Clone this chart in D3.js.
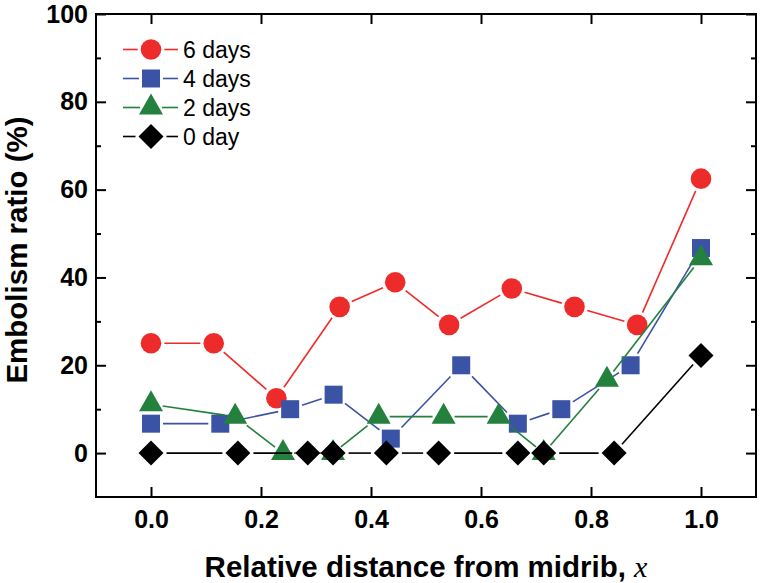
<!DOCTYPE html>
<html>
<head>
<meta charset="utf-8">
<script src="https://cdn.jsdelivr.net/npm/d3@7"></script>
<style>
  html, body { margin: 0; padding: 0; background: #fff; }
  svg { display: block; }
</style>
</head>
<body>
<svg id="chart" width="760" height="583"></svg>
<script>
// ---------------- data ----------------
const seriesNames = ["6 days", "4 days", "2 days", "0 day"];
const x6 = [0, 0.114, 0.228, 0.343, 0.444, 0.542, 0.656, 0.770, 0.884, 1.0];
const y6 = [25, 25, 12.5, 33.3, 38.9, 29.2, 37.5, 33.3, 29.2, 62.5];
const x4 = [0, 0.126, 0.253, 0.332, 0.436, 0.564, 0.667, 0.746, 0.872, 1.0];
const y4 = [6.7, 6.7, 10, 13.3, 3.3, 20, 6.7, 10, 20, 46.7];
const x2 = [0, 0.153, 0.240, 0.331, 0.414, 0.532, 0.632, 0.714, 0.829, 1.0];
const y2 = [11.1, 8.3, 0, 0, 8.3, 8.3, 8.3, 0, 16.7, 44.4];
const x0 = [0, 0.158, 0.285, 0.331, 0.428, 0.523, 0.667, 0.714, 0.842, 1.0];
const y0 = [0, 0, 0, 0, 0, 0, 0, 0, 0, 22.2];
const xTicks = [0, 0.2, 0.4, 0.6, 0.8, 1.0];
const yTicks = [0, 20, 40, 60, 80, 100];
const yMinorTicks = [10, 30, 50, 70, 90];
const xLabel = "Relative distance from midrib, ";
const xLabelVar = "x";
const yLabel = "Embolism ratio (%)";

// ---------------- styles ----------------
const colors = ["#ee2b2b", "#3a53a4", "#23803d", "#000000"];
const shapes = ["circle", "square", "triangle", "diamond"];
const GAP = 3;

const svg = d3.select("#chart");
const L = 96, R = 756, T = 14, B = 497;
const x = d3.scaleLinear().domain([-0.1, 1.1]).range([L, R]);
const y = d3.scaleLinear().domain([-10, 100]).range([B, T]);

const shapePoly = {
  square: [[-9, -9], [9, -9], [9, 9], [-9, 9]],
  triangle: [[0, -14], [12, 7], [-12, 7]],
  diamond: [[0, -12.5], [12.5, 0], [0, 12.5], [-12.5, 0]]
};
const CIRC_R = 10.3;

function boundaryDist(shape, dx, dy) {
  if (shape === "circle") return CIRC_R;
  const poly = shapePoly[shape];
  let best = Infinity;
  for (let i = 0; i < poly.length; i++) {
    const a = poly[i], b = poly[(i + 1) % poly.length];
    const ex = b[0] - a[0], ey = b[1] - a[1];
    const den = dx * ey - dy * ex;
    if (Math.abs(den) < 1e-9) continue;
    const t = (a[0] * ey - a[1] * ex) / den;
    const s = (a[0] * dy - a[1] * dx) / den;
    if (t > 0 && s >= -1e-9 && s <= 1 + 1e-9) best = Math.min(best, t);
  }
  return best === Infinity ? 10 : best;
}

function drawMarker(g, shape, cx, cy, color) {
  if (shape === "circle") {
    g.append("circle").attr("cx", cx).attr("cy", cy).attr("r", CIRC_R).attr("fill", color);
  } else {
    g.append("polygon")
      .attr("points", shapePoly[shape].map(p => [cx + p[0], cy + p[1]].join(",")).join(" "))
      .attr("fill", color);
  }
}

function drawSegment(g, shape, p0, p1, color) {
  const dx = p1[0] - p0[0], dy = p1[1] - p0[1];
  const len = Math.hypot(dx, dy);
  if (len === 0) return;
  const ux = dx / len, uy = dy / len;
  const s = boundaryDist(shape, ux, uy) + GAP;
  const e = boundaryDist(shape, -ux, -uy) + GAP;
  if (s + e >= len) return;
  g.append("line")
    .attr("x1", p0[0] + ux * s).attr("y1", p0[1] + uy * s)
    .attr("x2", p1[0] - ux * e).attr("y2", p1[1] - uy * e)
    .attr("stroke", color).attr("stroke-width", 1.6);
}

// ---------------- axes ----------------
const axFont = "'Liberation Sans', Arial, Helvetica, sans-serif";
function styleAxis(g, labels) {
  g.select(".domain").remove();
  g.selectAll(".tick line").attr("stroke", "#000").attr("stroke-width", 2);
  if (labels) {
    g.selectAll(".tick text").attr("fill", "#000")
      .style("font-family", axFont).style("font-weight", "bold").style("font-size", "25px");
  } else {
    g.selectAll(".tick text").remove();
  }
}

const gxB = svg.append("g").attr("transform", `translate(0,${B})`)
  .call(d3.axisBottom(x).tickValues(xTicks).tickSize(-10).tickPadding(13).tickFormat(d3.format(".1f")));
styleAxis(gxB, true);
const gxT = svg.append("g").attr("transform", `translate(0,${T})`)
  .call(d3.axisTop(x).tickValues(xTicks).tickSize(-10));
styleAxis(gxT, false);

const gyL = svg.append("g").attr("transform", `translate(${L},0)`)
  .call(d3.axisLeft(y).tickValues(yTicks).tickSize(-10).tickPadding(8).tickFormat(d3.format("d")));
styleAxis(gyL, true);
const gyLm = svg.append("g").attr("transform", `translate(${L},0)`)
  .call(d3.axisLeft(y).tickValues(yMinorTicks).tickSize(-5));
styleAxis(gyLm, false);
const gyR = svg.append("g").attr("transform", `translate(${R},0)`)
  .call(d3.axisRight(y).tickValues(yTicks).tickSize(-10));
styleAxis(gyR, false);
const gyRm = svg.append("g").attr("transform", `translate(${R},0)`)
  .call(d3.axisRight(y).tickValues(yMinorTicks).tickSize(-5));
styleAxis(gyRm, false);

svg.append("rect").attr("x", L).attr("y", T).attr("width", R - L).attr("height", B - T)
  .attr("fill", "none").attr("stroke", "#000").attr("stroke-width", 2);

// ---------------- series ----------------
const allX = [x6, x4, x2, x0];
const allY = [y6, y4, y2, y0];
allX.forEach((xs, si) => {
  const g = svg.append("g");
  const pts = xs.map((xv, i) => [x(xv), y(allY[si][i])]);
  for (let i = 0; i < pts.length - 1; i++) drawSegment(g, shapes[si], pts[i], pts[i + 1], colors[si]);
  pts.forEach(p => drawMarker(g, shapes[si], p[0], p[1], colors[si]));
});

// ---------------- legend ----------------
const legX0 = 123, legX1 = 178, legM = 151, legTop = 49.5, legStep = 29;
seriesNames.forEach((name, si) => {
  const g = svg.append("g");
  const cy = legTop + si * legStep;
  drawSegment(g, shapes[si], [legX0 - 100, cy], [legM, cy], colors[si]);
  g.select("line:last-child").attr("x1", legX0);
  const g2 = svg.append("g");
  drawSegment(g2, shapes[si], [legM, cy], [legX1 + 100, cy], colors[si]);
  g2.select("line").attr("x2", legX1);
  drawMarker(svg.append("g"), shapes[si], legM, cy, colors[si]);
  svg.append("text").attr("x", 183).attr("y", cy).attr("dy", "0.36em")
    .style("font-family", axFont).style("font-size", "23px").attr("fill", "#000").text(name);
});

// ---------------- titles ----------------
const xt = svg.append("text").attr("x", (L + R) / 2).attr("y", 577).attr("text-anchor", "middle")
  .attr("xml:space", "preserve").attr("fill", "#000");
xt.append("tspan").style("font-family", axFont).style("font-weight", "bold").style("font-size", "29.5px").text(xLabel);
xt.append("tspan").style("font-family", "'Liberation Serif', 'Times New Roman', serif").style("font-style", "italic")
  .style("font-size", "30px").text(xLabelVar);

svg.append("text").attr("transform", "translate(27,250) rotate(-90)").attr("text-anchor", "middle")
  .style("font-family", axFont).style("font-weight", "bold").style("font-size", "29.5px").attr("fill", "#000")
  .text(yLabel);
</script>
</body>
</html>
